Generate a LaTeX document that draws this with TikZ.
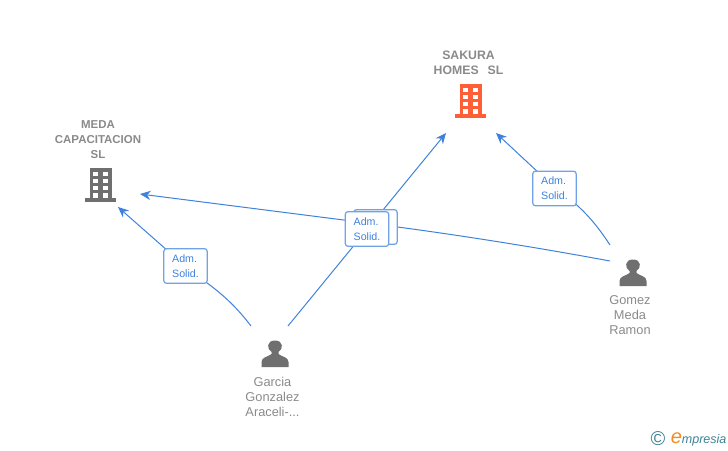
\documentclass[tikz,border=0pt]{standalone}
\usepackage{fontspec}
\setmainfont{Liberation Sans}
\usetikzlibrary{arrows.meta}
\definecolor{linkblue}{HTML}{3F82DC}
\definecolor{boxblue}{HTML}{6FA3E6}
\definecolor{labelgrey}{HTML}{8A8A8A}
\definecolor{icongrey}{HTML}{6F6F6F}
\definecolor{iconorange}{HTML}{FF5F36}
\definecolor{logoteal}{HTML}{3D8296}
\definecolor{logoorange}{HTML}{F28C1E}
\tikzset{
  x=0.75pt,y=-0.75pt,
  link/.style={draw=linkblue,line width=0.75pt,-{Stealth[length=8pt,width=7pt]}},
  rolebox/.style={draw=boxblue,line width=0.9pt,rounded corners=2pt,fill=white,minimum width=32.5pt,minimum height=26pt,inner sep=0pt,align=left,text=linkblue,font=\fontsize{8}{11.25}\selectfont},
  namelabel/.style={align=center,text=labelgrey,font=\fontsize{9.6}{11.25}\selectfont},
  firmlabel/.style={align=center,text=labelgrey,font=\bfseries\fontsize{8.6}{11.25}\selectfont},
  pics/building/.style={code={
    \fill[#1] (-11,-16.5) rectangle (11,15);
    \fill[#1] (-15.5,13.5) rectangle (15.5,17);
    \foreach \r in {-12.5,-5.5,1.5}{
      \fill[white] (-7.5,\r) rectangle (-2.5,\r+4);
      \fill[white] (2.5,\r) rectangle (7.5,\r+4);
    }
    \fill[white] (-7.5,8) rectangle (-2.5,13.5);
    \fill[white] (2.5,8) rectangle (7.5,13.5);
  }},
  pics/person/.style={code={
    \fill[icongrey] (-13.5,13) -- (-13.5,8) .. controls (-13.5,3) and (-7,3) .. (-3.5,0)
      -- (-3.5,-2) .. controls (-8.5,-5) and (-8.5,-13.5) .. (0,-13.5)
      .. controls (8.5,-13.5) and (8.5,-5) .. (3.5,-2) -- (3.5,0)
      .. controls (7,3) and (13.5,3) .. (13.5,8) -- (13.5,13) -- cycle;
  }}
}
\begin{document}
\begin{tikzpicture}
\useasboundingbox (0,0) rectangle (728,450);
% icons
\pic at (470.5,100.5) {building=iconorange};
\pic at (100.5,184.5) {building=icongrey};
\pic at (275,354) {person};
\pic at (633,273) {person};
% labels
\node[firmlabel] (sakura) at (468.5,63) {\fontsize{9.2}{11.25}\selectfont SAKURA\\\fontsize{9.2}{11.25}\selectfont HOMES\ \ \,SL};
\node[firmlabel] (meda) at (98,139.5) {MEDA\\CAPACITACION\\SL};
\node[namelabel] (garcia) at (272.5,397) {Garcia\\Gonzalez\\Araceli-...};
\node[namelabel] (gomez) at (630,315) {Gomez\\Meda\\Ramon};
% connector ends
\coordinate (sakuraL) at (446,133);
\coordinate (sakuraR) at (496,133);
\coordinate (medaL) at (118,207);
\coordinate (medaR) at (140,194);
\coordinate (garciaL) at (251,326);
\coordinate (garciaR) at (288,326);
\coordinate (gomezT) at (610,245);
\coordinate (gomezB) at (610,261);
% connectors
\draw[link] (garciaL) .. controls (225,292) and (205,283) .. (185,266) -- (medaL);
\draw[link] (garciaR) -- (sakuraL);
\draw[link] (gomezT) .. controls (595,222) and (580,205) .. (555,188) -- (sakuraR);
\draw[link] (gomezB) .. controls (540,248) and (460,235) .. (375,224) -- (medaR);
% role boxes
\node[rolebox] (r4) at (375.5,227) {};
\node[rolebox] (r3) at (367,229) {Adm.\\Solid.};
\node[rolebox] (r1) at (185.5,266) {Adm.\\Solid.};
\node[rolebox] (r2) at (554.5,188.5) {Adm.\\Solid.};
% logo
\node[text=logoteal,font=\fontsize{15}{15}\selectfont,inner sep=0pt] (copy) at (658,438.5) {©};
\node[inner sep=0pt,anchor=base west,font=\itshape\fontsize{9.4}{11}\selectfont,text=logoteal] (brand) at (670.5,443) {{\color{logoorange}\fontsize{15}{11}\selectfont e}mpresia};
\end{tikzpicture}
\end{document}
